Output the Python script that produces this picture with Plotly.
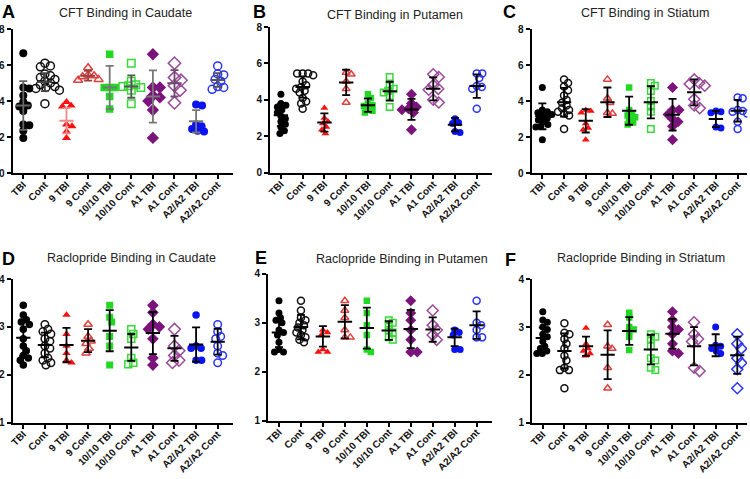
import plotly.graph_objects as go

W, H = 750, 479

categories = ["TBI", "Cont", "9 TBI", "9 Cont", "10/10 TBI", "10/10 Cont",
              "A1 TBI", "A1 Cont", "A2/A2 TBI", "A2/A2 Cont"]

titles = ["CFT Binding in Caudate", "CFT Binding in Putamen", "CFT Binding in Stiatum",
          "Raclopride Binding in Caudate", "Raclopride Binding in Putamen",
          "Raclopride Binding in Striatum"]
letters = ["A", "B", "C", "D", "E", "F"]

# ---------- data ----------
A_vals = [
    [6.65, 4.75, 4.7, 4.3, 3.95, 3.75, 3.7, 3.45, 2.7, 2.65, 2.35, 1.95],
    [6.1, 5.95, 5.9, 5.5, 5.4, 5.3, 5.2, 5.1, 5.0, 4.9, 4.8, 4.75, 4.7, 4.6, 3.85],
    [3.95, 3.75, 3.7, 2.7, 2.6, 2.3, 1.95],
    [5.85, 5.45, 5.4, 5.35, 5.2, 5.15],
    [6.6, 4.75, 4.75, 4.75, 4.25, 3.55],
    [6.1, 5.1, 4.9, 4.85, 4.8, 4.75, 4.6, 3.85],
    [6.6, 4.75, 4.75, 4.3, 4.2, 4.0, 3.5, 1.95],
    [6.1, 5.3, 5.15, 4.85, 4.6, 3.9],
    [3.8, 3.75, 2.7, 2.6, 2.45, 2.35, 2.3],
    [5.95, 5.5, 5.45, 5.2, 5.1, 4.8, 4.75, 4.65],
]
A_mean = [3.75, 5.05, 2.9, 5.4, 4.75, 4.8, 4.25, 4.98, 2.87, 5.17]
A_sd = [1.35, 0.5, 0.7, 0.27, 1.2, 0.62, 1.45, 0.73, 0.62, 0.38]

B_vals = [
    [4.3, 3.8, 3.7, 3.6, 3.45, 3.3, 3.1, 2.95, 2.8, 2.65, 2.5, 2.3, 2.15],
    [5.45, 5.45, 5.45, 5.35, 5.0, 4.8, 4.7, 4.6, 4.5, 4.4, 4.1, 3.9, 3.8, 3.5],
    [3.55, 3.0, 2.8, 2.7, 2.5, 2.35, 2.15],
    [5.5, 5.4, 5.0, 4.6, 3.85],
    [4.3, 4.1, 3.8, 3.7, 3.65, 3.5, 3.4, 3.3],
    [5.25, 4.75, 4.6, 4.5, 4.4, 4.2, 3.6],
    [4.3, 3.8, 3.6, 3.5, 3.45, 3.3, 2.35],
    [5.4, 5.25, 4.8, 4.6, 4.55, 4.0, 3.85],
    [2.95, 2.75, 2.7, 2.25, 2.2],
    [5.45, 5.45, 5.2, 4.75, 4.7, 4.6, 3.5],
]
B_mean = [3.15, 4.7, 2.75, 4.95, 3.7, 4.47, 3.47, 4.6, 2.63, 4.75]
B_sd = [0.6, 0.58, 0.5, 0.7, 0.37, 0.52, 0.58, 0.63, 0.37, 0.65]

C_vals = [
    [4.75, 3.5, 3.4, 3.35, 3.25, 3.15, 3.05, 2.95, 2.85, 2.7, 2.6, 2.55, 1.85],
    [5.2, 5.0, 4.8, 4.6, 4.3, 4.05, 3.9, 3.75, 3.6, 3.5, 3.4, 3.3, 3.2, 2.45],
    [3.5, 3.45, 3.35, 2.75, 2.5, 2.4, 1.85],
    [5.2, 4.15, 3.9, 3.35, 3.3],
    [4.75, 3.5, 3.3, 3.2, 3.1, 2.95, 2.8, 2.7],
    [5.0, 4.85, 4.55, 4.0, 3.7, 3.4, 2.45],
    [4.75, 3.5, 3.5, 3.25, 3.0, 2.85, 2.6, 1.85],
    [5.2, 5.0, 4.95, 4.85, 4.1, 3.75, 3.6],
    [3.45, 3.4, 3.35, 2.55, 2.5],
    [4.2, 4.15, 3.5, 3.45, 3.4, 3.3, 2.85, 2.45],
]
C_mean = [3.15, 3.93, 2.9, 3.93, 3.46, 3.93, 3.24, 4.48, 3.0, 3.46]
C_sd = [0.72, 0.8, 0.65, 0.82, 0.78, 0.9, 0.88, 0.72, 0.45, 0.6]

D_vals = [
    [3.45, 3.25, 3.15, 3.1, 3.05, 2.95, 2.75, 2.6, 2.5, 2.4, 2.35, 2.3, 2.2],
    [3.05, 2.95, 2.9, 2.85, 2.75, 2.7, 2.6, 2.55, 2.45, 2.35, 2.3, 2.25, 2.2],
    [3.25, 2.85, 2.6, 2.45, 2.3, 2.25],
    [3.05, 2.8, 2.7, 2.65, 2.55, 2.45],
    [3.45, 3.2, 3.1, 2.8, 2.6, 2.2],
    [2.95, 2.85, 2.75, 2.35, 2.25, 2.22],
    [3.45, 3.3, 3.05, 3.0, 2.95, 2.75, 2.35, 2.2],
    [2.95, 2.6, 2.5, 2.4, 2.3, 2.25],
    [3.25, 2.6, 2.55, 2.55, 2.3, 2.3],
    [3.05, 2.9, 2.8, 2.75, 2.6, 2.45, 2.4, 2.25],
]
D_mean = [2.77, 2.62, 2.62, 2.71, 2.92, 2.57, 2.87, 2.55, 2.63, 2.69]
D_sd = [0.38, 0.26, 0.36, 0.24, 0.43, 0.28, 0.44, 0.26, 0.36, 0.27]

E_vals = [
    [3.45, 3.2, 3.1, 3.05, 3.0, 2.85, 2.8, 2.75, 2.6, 2.45, 2.4, 2.4],
    [3.45, 3.25, 3.1, 3.05, 3.0, 2.95, 2.9, 2.85, 2.8, 2.75, 2.7, 2.65, 2.6],
    [2.85, 2.8, 2.75, 2.45, 2.4, 2.4],
    [3.45, 3.25, 3.1, 2.85, 2.7, 2.7],
    [3.45, 3.2, 2.95, 2.75, 2.45, 2.4],
    [3.05, 3.0, 2.95, 2.85, 2.8, 2.7, 2.65],
    [3.45, 3.2, 3.05, 2.85, 2.65, 2.4, 2.4],
    [3.25, 2.95, 2.85, 2.75, 2.65],
    [2.85, 2.8, 2.75, 2.45, 2.45],
    [3.45, 3.0, 2.95, 2.85, 2.7, 2.7],
]
E_mean = [2.8, 2.91, 2.72, 3.02, 2.89, 2.84, 2.87, 2.86, 2.7, 2.95]
E_sd = [0.3, 0.25, 0.21, 0.34, 0.42, 0.19, 0.39, 0.25, 0.18, 0.28]

F_vals = [
    [3.32, 3.15, 3.1, 3.0, 2.95, 2.85, 2.8, 2.7, 2.6, 2.55, 2.5, 2.45, 2.45],
    [3.08, 2.88, 2.85, 2.75, 2.65, 2.55, 2.4, 2.3, 2.15, 2.1, 2.1, 1.72],
    [2.98, 2.65, 2.55, 2.5, 2.45, 2.4],
    [3.05, 2.6, 2.55, 2.15, 1.72],
    [3.3, 3.2, 3.0, 2.95, 2.9, 2.8, 2.52],
    [2.85, 2.8, 2.75, 2.6, 2.35, 2.3, 2.15, 2.1],
    [3.32, 3.15, 3.0, 2.95, 2.85, 2.65, 2.5, 2.45],
    [3.1, 2.85, 2.75, 2.7, 2.15, 2.08],
    [3.0, 2.62, 2.6, 2.55, 2.5, 2.45],
    [2.85, 2.65, 2.55, 2.35, 2.25, 2.12, 1.72],
]
F_mean = [2.77, 2.5, 2.6, 2.42, 2.92, 2.53, 2.86, 2.6, 2.62, 2.41]
F_sd = [0.22, 0.37, 0.2, 0.51, 0.29, 0.31, 0.31, 0.4, 0.23, 0.39]

y_ticks_top = [0, 2, 4, 6, 8]
y_ticks_bot = [1, 2, 3, 4]

# ---------- styles ----------
colors = ["#000000", "#111111", "#ff1010", "#e04040", "#22d822", "#3ad83a",
          "#7a147a", "#9a4a9a", "#0a14f0", "#2a35f5"]
symbols = ["circle", "circle-open", "triangle-up", "triangle-up-open", "square",
           "square-open", "diamond", "diamond-open", "circle", "circle-open"]

panels = [
    dict(vals=A_vals, mean=A_mean, sd=A_sd, yr=[0, 8], yt=y_ticks_top,
         px=(12.5, 232.8), py=(29, 173), xr=[-0.5, 9.7],
         title_xy=(125, 13), letter_xy=(8, 12), msize=8,
         ebc=["#666", "#444", "#f08a8a", "#9a4040", "#777", "#555", "#777", "#6a4a6a", "#777", "#555"]),
    dict(vals=B_vals, mean=B_mean, sd=B_sd, yr=[0, 8], yt=y_ticks_top,
         px=(270, 492), py=(27, 172.5), xr=[-0.5, 9.7],
         title_xy=(395, 15), letter_xy=(259, 12), msize=7, ebc=None),
    dict(vals=C_vals, mean=C_mean, sd=C_sd, yr=[0, 8], yt=y_ticks_top,
         px=(531.5, 747.4), py=(29, 173), xr=[-0.5, 9.45],
         title_xy=(645, 13), letter_xy=(509, 12), msize=7, ebc=None),
    dict(vals=D_vals, mean=D_mean, sd=D_sd, yr=[1, 4], yt=y_ticks_bot,
         px=(12.5, 232.8), py=(279, 422.5), xr=[-0.5, 9.7],
         title_xy=(131, 258), letter_xy=(8, 259), msize=7.5, ebc=None),
    dict(vals=E_vals, mean=E_mean, sd=E_sd, yr=[1, 4], yt=y_ticks_bot,
         px=(268, 492), py=(273.8, 420.5), xr=[-0.5, 9.7],
         title_xy=(402, 259), letter_xy=(261, 258), msize=7, ebc=None),
    dict(vals=F_vals, mean=F_mean, sd=F_sd, yr=[1, 4], yt=y_ticks_bot,
         px=(532, 747), py=(279.3, 422.7), xr=[-0.5, 9.45],
         title_xy=(641, 258), letter_xy=(510, 260), msize=7, ebc=None),
]


def swarm(values, ppu_y, ppc_x, d):
    """Simple deterministic beeswarm: returns x offsets (category units)."""
    order = sorted(range(len(values)), key=lambda i: -values[i])
    placed = []
    offs = [0.0] * len(values)
    for i in order:
        y = values[i] * ppu_y
        best = None
        k = 0
        while best is None and k < 200:
            for s in ([1] if k == 0 else [1, -1]):
                xo = s * k * 0.5
                if all((xo - px_) ** 2 + (y - py_) ** 2 >= d * d for px_, py_ in placed):
                    best = xo
                    break
            k += 1
        if best is None:
            best = 0.0
        placed.append((best, y))
        offs[i] = best / ppc_x
    return offs


fig = go.Figure()
layout = dict(width=W, height=H, margin=dict(l=0, r=0, t=0, b=0, autoexpand=False),
              template="none",
              paper_bgcolor="white", plot_bgcolor="white", showlegend=False,
              font=dict(family="Arial, Liberation Sans, sans-serif", color="#111"))
annotations = []

for p_i, P in enumerate(panels):
    n = p_i + 1
    xa = "x" if n == 1 else f"x{n}"
    ya = "y" if n == 1 else f"y{n}"
    x0, x1 = P["px"]
    ytop, ybot = P["py"]
    ppc = (x1 - x0) / (P["xr"][1] - P["xr"][0])
    ppu = (ybot - ytop) / (P["yr"][1] - P["yr"][0])
    syms = list(symbols)
    if n == 6:
        syms[9] = "diamond-open"
    for g in range(10):
        vals = P["vals"][g]
        msz = P["msize"]
        if syms[g].startswith("diamond"):
            msz += 1.5
        if syms[g].startswith("square"):
            msz -= 0.5
        offs = swarm(vals, ppu, ppc, msz * 0.72)
        xs = [g + o for o in offs]
        fig.add_trace(go.Scatter(
            x=xs, y=vals, mode="markers", xaxis=xa, yaxis=ya,
            marker=dict(symbol=syms[g], size=msz, color=colors[g],
                        line=dict(width=1.5 if "open" in syms[g] else 0, color=colors[g])),
            hoverinfo="skip"))
    for g in range(10):
        ec = P["ebc"][g] if P["ebc"] else "#000000"
        m = P["mean"][g]
        s = P["sd"][g]
        fig.add_trace(go.Scatter(
            x=[g], y=[m], mode="markers", xaxis=xa, yaxis=ya,
            marker=dict(size=1, opacity=0),
            error_y=dict(type="data", array=[s], visible=True, color=ec, thickness=1.8, width=4),
            hoverinfo="skip"))
        fig.add_trace(go.Scatter(
            x=[g - 0.33, g + 0.33], y=[m, m], mode="lines", xaxis=xa, yaxis=ya,
            line=dict(color=ec, width=2), hoverinfo="skip"))

    key_x = "xaxis" if n == 1 else f"xaxis{n}"
    key_y = "yaxis" if n == 1 else f"yaxis{n}"
    layout[key_x] = dict(
        domain=[x0 / W, x1 / W], range=P["xr"], anchor=ya, automargin=False,
        tickmode="array", tickvals=list(range(10)), ticktext=categories,
        tickangle=-45, showline=True, linecolor="black", linewidth=2,
        ticks="outside", ticklen=4, tickwidth=1.5, tickcolor="black",
        showgrid=False, zeroline=False, ticklabelstandoff=-4,
        tickfont=dict(size=10, weight="bold", color="#111"))
    layout[key_y] = dict(
        domain=[1 - ybot / H, 1 - ytop / H], range=P["yr"], anchor=xa, automargin=False,
        tickmode="array", tickvals=P["yt"], ticktext=[str(v) for v in P["yt"]],
        showline=True, linecolor="black", linewidth=2,
        ticks="outside", ticklen=4, tickwidth=1.5, tickcolor="black",
        showgrid=False, zeroline=False,
        tickfont=dict(size=10, weight="bold", color="#111"))

    tx, ty = P["title_xy"]
    annotations.append(dict(text=titles[p_i], x=tx / W, y=1 - ty / H, xref="paper", yref="paper",
                            showarrow=False, xanchor="center", yanchor="middle",
                            font=dict(size=12.5, color="#222")))
    lx, ly = P["letter_xy"]
    annotations.append(dict(text=letters[p_i], x=lx / W, y=1 - ly / H, xref="paper", yref="paper",
                            showarrow=False, xanchor="center", yanchor="middle",
                            font=dict(size=18, color="#000", weight="bold")))

layout["annotations"] = annotations
fig.update_layout(**layout)
fig.write_html("out.html", config={"displayModeBar": False},
               post_script="document.body.style.margin='0px';")
